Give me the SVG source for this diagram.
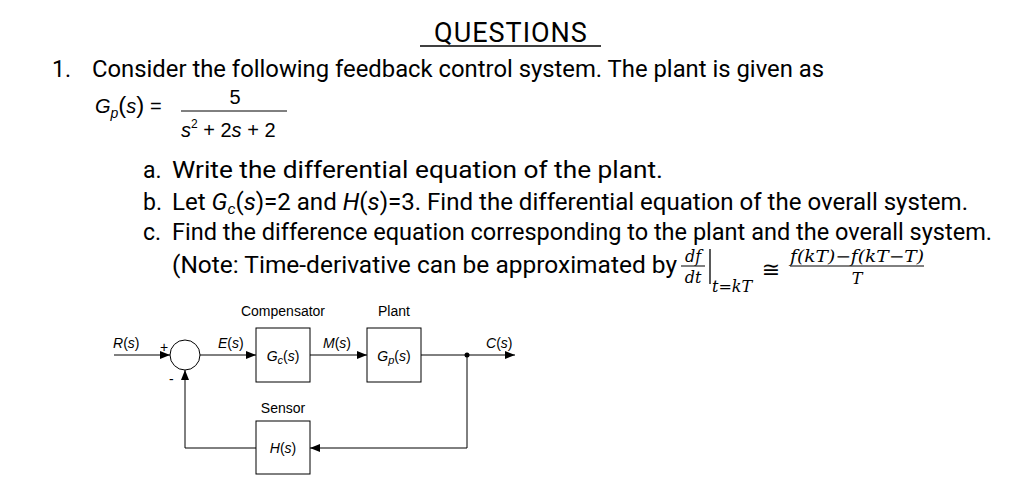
<svg xmlns="http://www.w3.org/2000/svg" width="1023" height="480" viewBox="0 0 1023 480">
<style>
.t{font-family:Roboto,"Liberation Sans",sans-serif;font-size:23px;fill:#000}
.m{font-family:"DejaVu Serif","Liberation Serif",serif;font-style:italic;fill:#000}
.d{font-family:"Liberation Sans",Arial,sans-serif;font-size:14px;fill:#000}
.ln{stroke:#000;stroke-width:1;fill:none}
.bx{stroke:#000;stroke-width:1;fill:#fff}
</style>
<defs><marker id="a" markerWidth="10" markerHeight="8" refX="10" refY="4" orient="auto" markerUnits="userSpaceOnUse"><path d="M0,0L10,4L0,8z" fill="#000"/></marker></defs>
<rect width="1023" height="480" fill="#fff"/>
<text x="511" y="42" text-anchor="middle" class="t" style="font-size:27px;letter-spacing:1px">QUESTIONS</text>
<line x1="420" y1="46" x2="601" y2="46" stroke="#000" stroke-width="1.5"/>
<text x="52" y="77" class="t">1.</text>
<text x="92" y="77" class="t" textLength="732" lengthAdjust="spacingAndGlyphs">Consider the following feedback control system. The plant is given as</text>
<text x="95" y="113" class="d" style="font-size:20px"><tspan font-style="italic">G</tspan><tspan font-style="italic" font-size="14" dy="5">p</tspan><tspan dy="-5" font-size="24">(</tspan><tspan font-style="italic">s</tspan><tspan font-size="24">)</tspan>  =</text>
<text x="235" y="104" class="d" style="font-size:20px" text-anchor="middle">5</text>
<line x1="181" y1="111" x2="287" y2="111" stroke="#000" stroke-width="1"/>
<text x="181" y="137" class="d" style="font-size:20px"><tspan font-style="italic">s</tspan><tspan font-size="12" dy="-9">2</tspan><tspan dy="9"> +  2</tspan><tspan font-style="italic">s</tspan> +  2</text>
<text x="143" y="178" class="t">a.</text><text x="172" y="178" class="t" textLength="491" lengthAdjust="spacingAndGlyphs">Write the differential equation of the plant.</text>
<text x="143" y="210" class="t">b.</text><text x="172" y="210" class="t" textLength="796" lengthAdjust="spacingAndGlyphs">Let <tspan font-style="italic">G<tspan font-size="15" dy="4">c</tspan></tspan><tspan dy="-4">(</tspan><tspan font-style="italic">s</tspan>)=2 and <tspan font-style="italic">H</tspan>(<tspan font-style="italic">s</tspan>)=3. Find the differential equation of the overall system.</text>
<text x="143" y="240" class="t">c.</text><text x="172" y="240" class="t" textLength="820" lengthAdjust="spacingAndGlyphs">Find the difference equation corresponding to the plant and the overall system.</text>
<text x="172" y="273" class="t" textLength="505" lengthAdjust="spacingAndGlyphs">(Note: Time-derivative can be approximated by</text>
<text x="693" y="262" class="m" font-size="16" text-anchor="middle">df</text>
<line x1="681" y1="266" x2="705" y2="266" stroke="#000"/>
<text x="693" y="283" class="m" font-size="16" text-anchor="middle">dt</text>
<line x1="710" y1="249" x2="710" y2="284" stroke="#000" stroke-width="1.3"/>
<text x="712" y="292" class="m" font-size="16">t=kT</text>
<text x="771" y="277" font-family="DejaVu Sans,sans-serif" font-size="22" text-anchor="middle">≅</text>
<text x="857" y="262" class="m" font-size="16" text-anchor="middle" textLength="134" lengthAdjust="spacingAndGlyphs">f(kT)−f(kT−T)</text>
<line x1="790" y1="266" x2="924" y2="266" stroke="#000"/>
<text x="857" y="284" class="m" font-size="16" text-anchor="middle">T</text>
<g id="connectors">
<path class="ln" d="M114,355H170" marker-end="url(#a)"/>
<path class="ln" d="M200,355H256" marker-end="url(#a)"/>
<path class="ln" d="M310,355H367" marker-end="url(#a)"/>
<path class="ln" d="M421,355H515" marker-end="url(#a)"/>
<path class="ln" d="M467,355V448H310" marker-end="url(#a)"/>
<path class="ln" d="M256,448H185V370" marker-end="url(#a)"/>
<circle cx="467" cy="355" r="2.5" fill="#000"/>
</g>
<g id="sum"><circle class="bx" cx="185" cy="355" r="15"/><text x="160" y="352" class="d">+</text><text x="169" y="384" class="d">-</text></g>
<g id="gc"><rect class="bx" x="256" y="328" width="54" height="54"/><text x="283" y="361" class="d" text-anchor="middle"><tspan font-style="italic">G</tspan><tspan font-style="italic" font-size="11" dy="3">c</tspan><tspan dy="-3">(</tspan><tspan font-style="italic">s</tspan>)</text></g>
<g id="gp"><rect class="bx" x="367" y="328" width="54" height="54"/><text x="394" y="361" class="d" text-anchor="middle"><tspan font-style="italic">G</tspan><tspan font-style="italic" font-size="11" dy="3">p</tspan><tspan dy="-3">(</tspan><tspan font-style="italic">s</tspan>)</text></g>
<g id="h"><rect class="bx" x="256" y="421" width="54" height="53"/><text x="283" y="453" class="d" text-anchor="middle"><tspan font-style="italic">H</tspan>(<tspan font-style="italic">s</tspan>)</text></g>
<g id="labels">
<text x="283" y="316" class="d" text-anchor="middle">Compensator</text>
<text x="394" y="316" class="d" text-anchor="middle">Plant</text>
<text x="283" y="413" class="d" text-anchor="middle">Sensor</text>
<text x="113" y="348" class="d"><tspan font-style="italic">R</tspan>(<tspan font-style="italic">s</tspan>)</text>
<text x="218" y="348" class="d"><tspan font-style="italic">E</tspan>(<tspan font-style="italic">s</tspan>)</text>
<text x="323" y="348" class="d"><tspan font-style="italic">M</tspan>(<tspan font-style="italic">s</tspan>)</text>
<text x="486" y="348" class="d"><tspan font-style="italic">C</tspan>(<tspan font-style="italic">s</tspan>)</text>
</g>
</svg>
